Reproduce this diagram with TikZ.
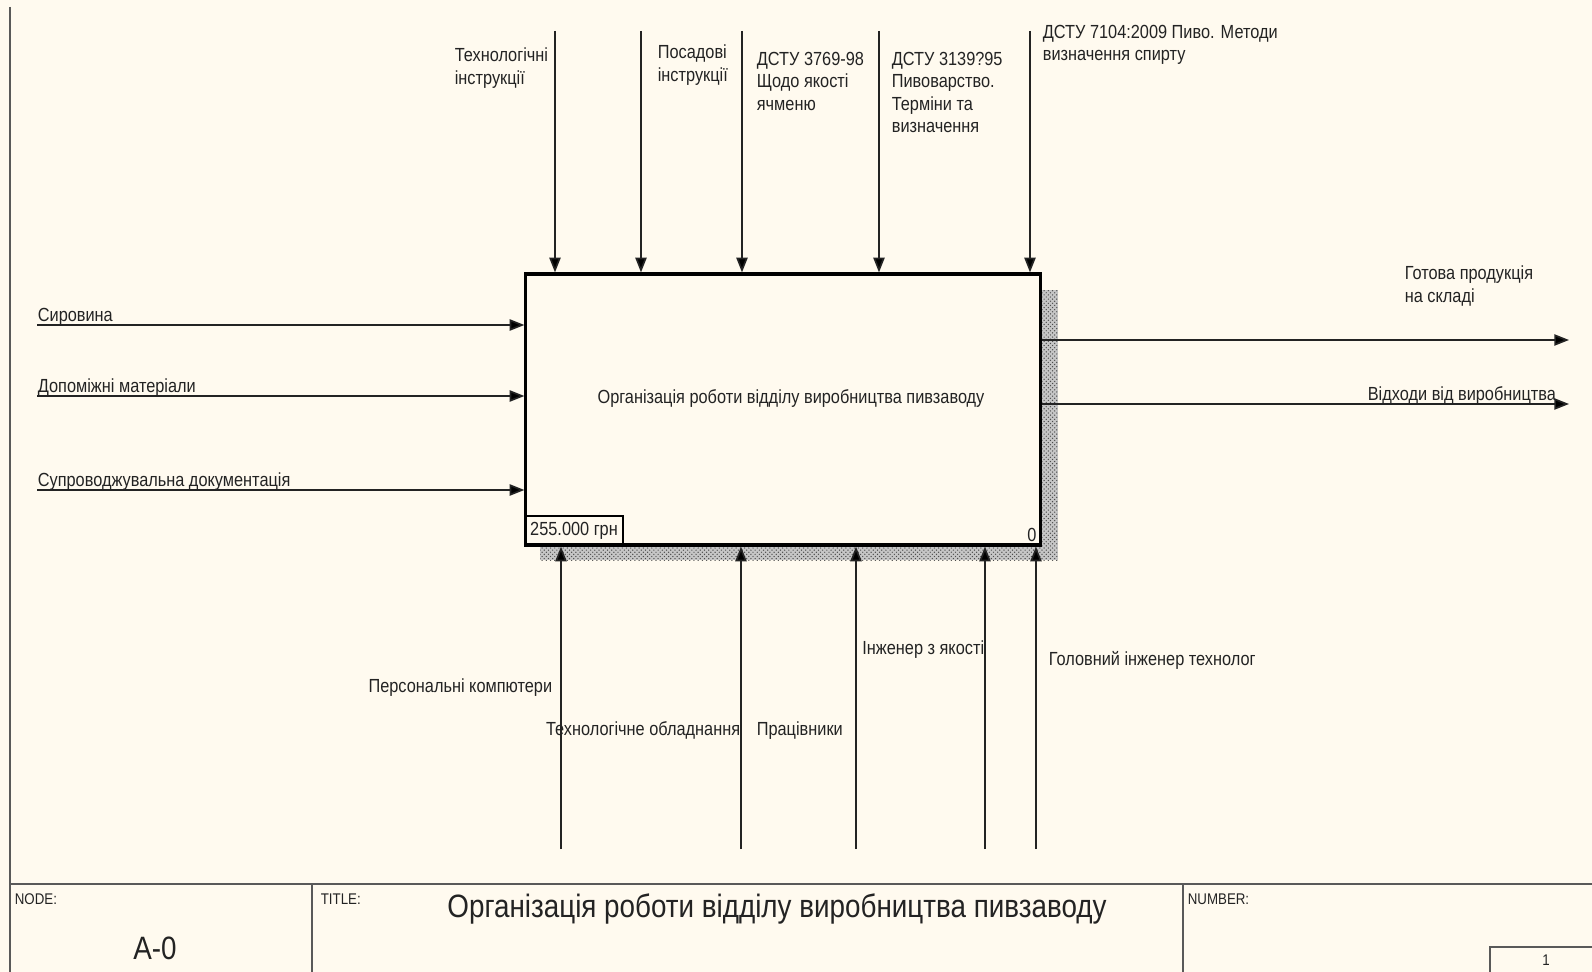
\documentclass[tikz,border=0pt]{standalone}
\usepackage{fontspec}
\setmainfont{Liberation Sans}[FakeStretch=0.86]
\usetikzlibrary{%
  arrows.meta,%
  positioning,% wg. " of "
  patterns,% shadow of the box
  calc%
}
\definecolor{paper}{RGB}{255,250,239}
\definecolor{ink}{RGB}{35,35,35}
\newcommand{\lblfont}{\fontsize{13.5pt}{16pt}\selectfont}
\newcommand{\ttlfont}{\fontsize{23pt}{26pt}\selectfont}
\newcommand{\hdfont}{\fontsize{11pt}{13pt}\selectfont}

\begin{document}
\begin{tikzpicture}
  [
  x=0.025cm, y=-0.025cm,
  font=\lblfont, text=ink, line width=1.2pt,
  flow/.style={draw=ink, -{Triangle[length=10.5pt,width=8pt,fill=black]}},
  frameline/.style={draw=black!65, line width=1.7pt},
  lbl/.style={inner sep=0pt},
  activity/.style={rectangle, draw=black, line width=2.2pt, fill=paper, minimum width=12.85cm, minimum height=6.775cm},
  cost/.style={rectangle, draw=black, line width=0.9pt, minimum width=2.45cm, minimum height=0.75cm, inner sep=1pt, anchor=south west}
  ]

\fill[paper] (0,0) rectangle (1592,972);
\useasboundingbox (0,0) rectangle (1592,972);

% box with shadow
\fill[gray!45] (540,290) rectangle (1058,560);
\fill[pattern=crosshatch dots, pattern color=black!70] (540,290) rectangle (1058,560);
\node[activity] (act) at (783,409.5) {};
\node[lbl] (actname) at (791,399) {Організація роботи відділу виробництва пивзаводу};
\node[cost] (cost) at (act.south west) {255.000 грн};
\node[anchor=south east, inner sep=3pt] (zero) at (act.south east) {0};

% inputs
\foreach \y/\n/\t in {325/i1/Сировина, 396/i2/Допоміжні матеріали, 490/i3/Супроводжувальна документація} {
  \coordinate (\n) at (37,\y);
  \draw[flow] (\n) -- (\n -| act.west);
  \node[lbl, anchor=base west] (t\n) at ($(\n)+(0,-4)$) {\t};
}

% outputs
\coordinate (o1) at (1569,340);
\coordinate (o2) at (1569,404);
\draw[flow] (o1 -| act.east) -- (o1);
\draw[flow] (o2 -| act.east) -- (o2);
\node[lbl, anchor=north west, align=left] (to1) at (1404,265) {Готова продукція\\на складі};
\node[lbl, anchor=base west] (to2) at (1367,400) {Відходи від виробництва};

% controls
\foreach \x/\n in {555/c1, 641/c2, 742/c3, 879/c4, 1030/c5} {
  \coordinate (\n) at (\x,31);
  \draw[flow] (\n) -- (\n |- act.north);
}
\node[lbl, anchor=north west, align=left] (tc1) at (454,47) {Технологічні\\інструкції};
\node[lbl, anchor=north west, align=left] (tc2) at (657,44) {Посадові\\інструкції};
\node[lbl, anchor=north west, align=left] (tc3) at (756,51) {ДСТУ 3769-98\\Щодо якості\\ячменю};
\node[lbl, anchor=north west, align=left] (tc4) at (891,51) {ДСТУ 3139?95\\Пивоварство.\\Терміни та\\визначення};
\node[lbl, anchor=north west, align=left] (tc5) at (1042,24) {ДСТУ 7104:2009 Пиво. Методи\\визначення спирту};

% mechanisms
\foreach \x/\n in {561/m1, 741/m2, 856/m3, 985/m4, 1036/m5} {
  \coordinate (\n) at (\x,849);
  \draw[flow] (\n) -- (\n |- act.south);
}
\node[lbl, anchor=base east] (tm1) at (553,692) {Персональні компютери};
\node[lbl, anchor=base east] (tm2) at (741,735) {Технологічне обладнання};
\node[lbl, anchor=base west] (tm3) at (756,735) {Працівники};
\node[lbl, anchor=base east] (tm4) at (985,654) {Інженер з якості};
\node[lbl, anchor=base west] (tm5) at (1048,665) {Головний інженер технолог};

% frame
\draw[frameline] (10,7) -- (10,972);
\draw[frameline] (10,884) -- (1592,884);
\draw[frameline] (312,884) -- (312,972);
\draw[frameline] (1183,884) -- (1183,972);
\draw[frameline] (1490,972) |- (1592,947);

\node[lbl, anchor=north west, font=\hdfont] (nodehd) at (14,893) {NODE:};
\node[lbl, anchor=north west, font=\hdfont] (titlehd) at (320,893) {TITLE:};
\node[lbl, anchor=north west, font=\hdfont] (numhd) at (1187,893) {NUMBER:};
\node[lbl, font=\ttlfont] (title) at (777,909) {Організація роботи відділу виробництва пивзаводу};
\node[lbl, font=\ttlfont] (nodeid) at (155,948) {A-0};
\node[lbl, font=\hdfont] (pagenum) at (1546,960) {1};

\end{tikzpicture}
\end{document}
